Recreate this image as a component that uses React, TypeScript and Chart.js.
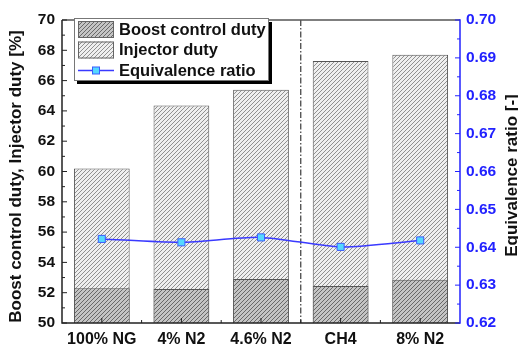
import React, { useEffect, useRef } from 'react';
import { Chart, registerables } from 'chart.js';

Chart.register(...registerables);

const categories = ['100% NG', '4% N2', '4.6% N2', 'CH4', '8% N2'];
const injectorDuty = [60.2, 64.35, 65.4, 67.3, 67.7];
const boostControlDuty = [52.3, 52.25, 52.9, 52.45, 52.85];
const equivalenceRatio = [0.6422, 0.6413, 0.6426, 0.6401, 0.6418];
const seriesNames = ['Boost control duty', 'Injector duty', 'Equivalence ratio'];
const leftTitle = 'Boost control duty, Injector duty [%]';
const rightTitle = 'Equivalence ratio [-]';
const leftRange = [50, 70, 2];
const rightRange = [0.62, 0.70, 0.01];
const dividerAfterIndex = 2;

const FONT = '"Liberation Sans", Arial, sans-serif';
const BLUE = '#2222ff';

function makeHatch(ctx: CanvasRenderingContext2D, bg: string, fg: string, size: number, lw: number) {
  const c = document.createElement('canvas');
  c.width = size;
  c.height = size;
  const g = c.getContext('2d')!;
  g.fillStyle = bg;
  g.fillRect(0, 0, size, size);
  g.strokeStyle = fg;
  g.lineWidth = lw;
  g.beginPath();
  g.moveTo(-1, size + 1);
  g.lineTo(size + 1, -1);
  g.moveTo(-1, 1);
  g.lineTo(1, -1);
  g.moveTo(size - 1, size + 1);
  g.lineTo(size + 1, size - 1);
  g.stroke();
  return ctx.createPattern(c, 'repeat')!;
}

const decorPlugin = {
  id: 'decor',
  beforeDatasetsDraw(chart: any) {
    const ctx = chart.ctx;
    const { top, bottom } = chart.chartArea;
    const x = chart.scales.x.getPixelForValue(dividerAfterIndex + 0.5);
    ctx.save();
    ctx.strokeStyle = '#111';
    ctx.lineWidth = 1;
    ctx.setLineDash([6, 2, 1.5, 2]);
    ctx.beginPath();
    ctx.moveTo(x, top);
    ctx.lineTo(x, bottom);
    ctx.stroke();
    ctx.restore();
  },
  afterDraw(chart: any) {
    const ctx = chart.ctx;
    const { left, right, top, bottom } = chart.chartArea;
    const xs = chart.scales.x;
    const ys = chart.scales.y;
    const y1 = chart.scales.y1;
    ctx.save();
    // frame
    ctx.lineWidth = 1.5;
    ctx.strokeStyle = '#555';
    ctx.beginPath();
    ctx.moveTo(left, top);
    ctx.lineTo(right, top);
    ctx.stroke();
    ctx.strokeStyle = '#222';
    ctx.beginPath();
    ctx.moveTo(left, top);
    ctx.lineTo(left, bottom);
    ctx.lineTo(right, bottom);
    ctx.stroke();
    ctx.strokeStyle = BLUE;
    ctx.beginPath();
    ctx.moveTo(right, top - 0.75);
    ctx.lineTo(right, bottom + 0.75);
    ctx.stroke();

    // left ticks
    ctx.lineWidth = 1;
    ctx.strokeStyle = '#222';
    ctx.beginPath();
    for (let i = 0; i < ys.ticks.length; i++) {
      const v = ys.ticks[i].value;
      const py = ys.getPixelForValue(v);
      ctx.moveTo(left, py);
      ctx.lineTo(left + 5, py);
      if (i < ys.ticks.length - 1) {
        const m = (v + ys.ticks[i + 1].value) / 2;
        const pm = ys.getPixelForValue(m);
        ctx.moveTo(left, pm);
        ctx.lineTo(left + 3, pm);
      }
    }
    // bottom ticks
    for (let i = 0; i < categories.length; i++) {
      const px = xs.getPixelForValue(i);
      ctx.moveTo(px, bottom);
      ctx.lineTo(px, bottom - 5);
      const pb = xs.getPixelForValue(i + 0.5);
      if (i < categories.length - 1) {
        ctx.moveTo(pb, bottom);
        ctx.lineTo(pb, bottom - 3);
      }
    }
    ctx.stroke();
    // right ticks
    ctx.strokeStyle = BLUE;
    ctx.beginPath();
    for (let i = 0; i < y1.ticks.length; i++) {
      const v = y1.ticks[i].value;
      const py = y1.getPixelForValue(v);
      ctx.moveTo(right, py);
      ctx.lineTo(right - 5, py);
      if (i < y1.ticks.length - 1) {
        const m = (v + y1.ticks[i + 1].value) / 2;
        const pm = y1.getPixelForValue(m);
        ctx.moveTo(right, pm);
        ctx.lineTo(right - 3, pm);
      }
    }
    ctx.stroke();

    // axis titles
    ctx.font = `bold 17px ${FONT}`;
    ctx.textAlign = 'center';
    ctx.textBaseline = 'middle';
    ctx.fillStyle = '#111';
    ctx.save();
    ctx.translate(16, (top + bottom) / 2 + 5);
    ctx.rotate(-Math.PI / 2);
    ctx.fillText(leftTitle, 0, 0);
    ctx.restore();
    ctx.save();
    ctx.translate(512, (top + bottom) / 2 + 4);
    ctx.rotate(-Math.PI / 2);
    ctx.fillText(rightTitle, 0, 0);
    ctx.restore();

    // legend
    const lx = 74, ly = 18, lw = 194, lh = 62;
    ctx.fillStyle = '#000';
    ctx.fillRect(lx + 3, ly + 4, lw + 1, lh);
    ctx.fillStyle = '#fff';
    ctx.fillRect(lx, ly, lw, lh);
    ctx.strokeStyle = '#777';
    ctx.lineWidth = 1;
    ctx.strokeRect(lx + 0.5, ly + 0.5, lw, lh);
    const ds = chart.data.datasets;
    const rows = [29.5, 50, 70.5];
    ctx.font = `bold 16.5px ${FONT}`;
    ctx.textAlign = 'left';
    ctx.textBaseline = 'middle';
    for (let i = 0; i < ds.length; i++) {
      const ry = rows[i];
      if (i < 2) {
        ctx.fillStyle = ds[i].backgroundColor;
        ctx.fillRect(78, ry - 8.5, 36, 17);
        ctx.strokeStyle = '#666';
        ctx.strokeRect(78.5, ry - 8, 35, 16);
      } else {
        ctx.strokeStyle = ds[i].borderColor;
        ctx.lineWidth = 1.5;
        ctx.beginPath();
        ctx.moveTo(78, ry);
        ctx.lineTo(114, ry);
        ctx.stroke();
        ctx.fillStyle = ds[i].pointBackgroundColor;
        ctx.strokeStyle = ds[i].pointBorderColor;
        ctx.lineWidth = 1;
        ctx.fillRect(92.5, ry - 3.5, 7, 7);
        ctx.strokeRect(92.5, ry - 3.5, 7, 7);
      }
      ctx.fillStyle = '#111';
      ctx.fillText(ds[i].label, 119, ry + 0.5);
    }
    ctx.restore();
  },
};

export default function App() {
  const ref = useRef<HTMLCanvasElement>(null);
  useEffect(() => {
    const canvas = ref.current!;
    const ctx = canvas.getContext('2d')!;
    const injPattern = makeHatch(ctx, '#efefef', '#909090', 4, 1);
    const boostPattern = makeHatch(ctx, '#c4c4c4', '#686868', 4, 1);
    const tickFont = { family: FONT, size: 15.5, weight: 'bold' as const };
    const chart = new Chart(canvas, {
      type: 'bar',
      data: {
        labels: categories,
        datasets: [
          {
            type: 'bar',
            label: seriesNames[0],
            data: boostControlDuty,
            backgroundColor: boostPattern as any,
            borderColor: '#555',
            borderWidth: 1,
            grouped: false,
            order: 1,
            yAxisID: 'y',
          },
          {
            type: 'bar',
            label: seriesNames[1],
            data: injectorDuty,
            backgroundColor: injPattern as any,
            borderColor: '#555',
            borderWidth: 1,
            grouped: false,
            order: 2,
            yAxisID: 'y',
          },
          {
            type: 'line',
            label: seriesNames[2],
            data: equivalenceRatio,
            borderColor: '#3a3aff',
            borderWidth: 1.5,
            tension: 0.25,
            pointStyle: 'rect',
            pointRadius: 5,
            pointBackgroundColor: '#55d8ff',
            pointBorderColor: '#3a5cff',
            pointBorderWidth: 1,
            order: 0,
            yAxisID: 'y1',
          } as any,
        ],
      },
      options: {
        responsive: false,
        animation: false,
        devicePixelRatio: 1,
        layout: { padding: { top: 20, left: 0, right: 0, bottom: 0 } },
        datasets: { bar: { barPercentage: 0.7, categoryPercentage: 1.0 } },
        plugins: { legend: { display: false }, tooltip: { enabled: false }, title: { display: false } },
        scales: {
          x: {
            type: 'category',
            grid: { display: false, drawTicks: false },
            border: { display: false },
            ticks: { font: { family: FONT, size: 16, weight: 'bold' }, color: '#111', padding: 7, maxRotation: 0, autoSkip: false },
            afterFit: (s: any) => { s.height = 22; },
          },
          y: {
            position: 'left',
            min: leftRange[0],
            max: leftRange[1],
            grid: { display: false, drawTicks: false },
            border: { display: false },
            ticks: { stepSize: leftRange[2], font: tickFont, color: '#111', padding: 7 },
            afterFit: (s: any) => { s.width = 62; },
          },
          y1: {
            position: 'right',
            min: rightRange[0],
            max: rightRange[1],
            grid: { display: false, drawTicks: false },
            border: { display: false },
            ticks: { stepSize: rightRange[2], font: tickFont, color: BLUE, padding: 6, callback: (v: any) => Number(v).toFixed(2) },
            afterFit: (s: any) => { s.width = 58; },
          },
        },
      },
      plugins: [decorPlugin],
    });
    return () => chart.destroy();
  }, []);
  return (
    <div style={{ position: 'fixed', left: 0, top: 0, width: 518, height: 345, background: '#fff' }}>
      <canvas ref={ref} width={518} height={345} style={{ width: 518, height: 345 }} />
    </div>
  );
}
